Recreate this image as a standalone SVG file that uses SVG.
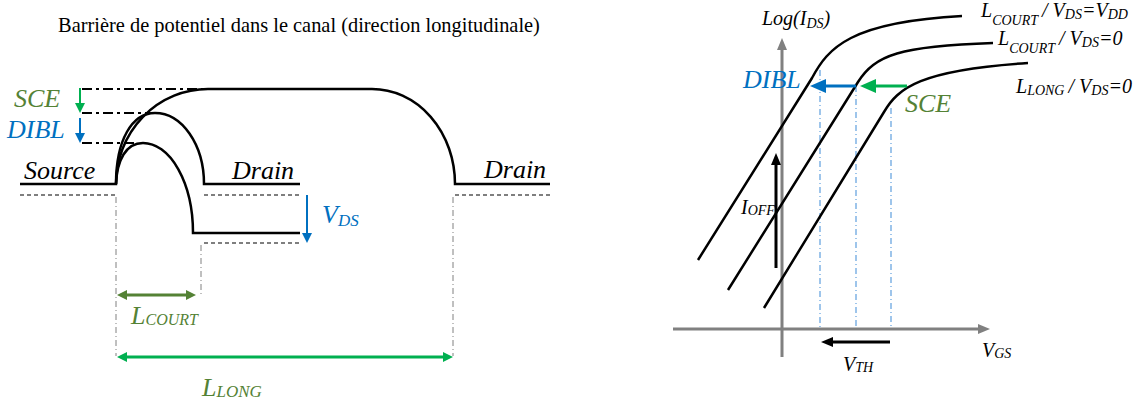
<svg xmlns="http://www.w3.org/2000/svg" width="1141" height="407" viewBox="0 0 1141 407">
<style>
.t{font-family:"Liberation Serif","Times New Roman",serif;font-style:italic}
.title{font-family:"Liberation Serif","Times New Roman",serif;font-size:20.4px;fill:#000}
.curve{fill:none;stroke:#000;stroke-width:2.5}
.dash{fill:none;stroke:#000;stroke-width:1.2;stroke-dasharray:4 3}
.ddot{fill:none;stroke:#000;stroke-width:2;stroke-dasharray:10 4 3 4}
.gdot{fill:none;stroke:#808080;stroke-width:1;stroke-dasharray:6 3 1 3}
.bdot{fill:none;stroke:#7fb2e5;stroke-width:1.5;stroke-dasharray:6 3 1 3}
.olive{fill:#548235}
.blue{fill:#0070C0}
</style>
<defs>
<marker id="ah-green" markerUnits="userSpaceOnUse" markerWidth="10" markerHeight="10" refX="3" refY="5" orient="auto-start-reverse"><path d="M0,0 L10,5 L0,10 z" fill="#00B050"/></marker>
<marker id="ah-olive" markerUnits="userSpaceOnUse" markerWidth="10" markerHeight="10" refX="3" refY="5" orient="auto-start-reverse"><path d="M0,0 L10,5 L0,10 z" fill="#548235"/></marker>
<marker id="ah-blue" markerUnits="userSpaceOnUse" markerWidth="10" markerHeight="10" refX="3" refY="5" orient="auto-start-reverse"><path d="M0,0 L10,5 L0,10 z" fill="#0070C0"/></marker>
<marker id="ah-black" markerUnits="userSpaceOnUse" markerWidth="12" markerHeight="10" refX="3" refY="5" orient="auto"><path d="M0,0 L12,5 L0,10 z" fill="#000"/></marker>
<marker id="ah-gray" markerUnits="userSpaceOnUse" markerWidth="12" markerHeight="10" refX="3" refY="5" orient="auto"><path d="M0,0 L12,5 L0,10 z" fill="#808080"/></marker>
<marker id="ah-blue-big" markerUnits="userSpaceOnUse" markerWidth="16" markerHeight="14" refX="4" refY="7" orient="auto"><path d="M0,0 L16,7 L0,14 z" fill="#0070C0"/></marker>
<marker id="ah-green-big" markerUnits="userSpaceOnUse" markerWidth="16" markerHeight="14" refX="4" refY="7" orient="auto"><path d="M0,0 L16,7 L0,14 z" fill="#00B050"/></marker>
</defs>

<text class="title" x="299" y="32" text-anchor="middle">Barrière de potentiel dans le canal (direction longitudinale)</text>

<!-- Left panel: potential barrier -->
<g id="barrier-long">
<path class="curve" d="M20,184 L116,184 A92,95 0 0 1 208,89 L372,89 A83,95 0 0 1 455,184 L550,184"/>
</g>
<g id="barrier-short-vds0">
<path class="curve" d="M116,184 C116,140 132,113 155,113 A49,71 0 0 1 204,184 L300,184"/>
</g>
<g id="barrier-short-vdd">
<path class="curve" d="M116,184 C117,160 126,143 143,143 A50,90 0 0 1 193,233 L300,233"/>
</g>
<g id="reference-levels">
<path class="dash" d="M20,195 H115 M204,195 H300 M455,195 H550 M204,243 H300"/>
<path class="ddot" d="M82,89 H210 M82,113 H150 M82,143 H136"/>
<path class="gdot" d="M116,197 V356 M201,245 V297 M453,197 V356"/>
</g>
<g id="left-labels">
<text class="t olive" x="14" y="107" font-size="26">SCE</text>
<text class="t blue" x="7" y="138" font-size="26">DIBL</text>
<text class="t" x="24" y="179" font-size="26">Source</text>
<text class="t" x="232" y="179" font-size="26">Drain</text>
<text class="t" x="484" y="178" font-size="26">Drain</text>
<text class="t blue" x="322" y="223" font-size="26">V<tspan font-size="17" dy="3">DS</tspan></text>
<text class="t olive" x="131" y="324" font-size="26">L<tspan font-size="16" dy="1">COURT</tspan></text>
<text class="t olive" x="202" y="396" font-size="26">L<tspan font-size="17" dy="1">LONG</tspan></text>
</g>

<!-- Right panel: Log(IDS) vs VGS -->
<g id="axes">
<line x1="782" y1="357" x2="782" y2="47" stroke="#808080" stroke-width="3" marker-end="url(#ah-gray)"/>
<line x1="673" y1="329" x2="981" y2="329" stroke="#808080" stroke-width="3" marker-end="url(#ah-gray)"/>
<path class="bdot" d="M820,70 V329 M856,86 V329 M891,108 V329"/>
</g>
<g id="curve-court-vdd">
<path class="curve" d="M698,260 L812,78 C828,48 850,22 962,16"/>
</g>
<g id="curve-court-0">
<path class="curve" d="M728,290 L858,82 C875,55 900,46 993,43"/>
</g>
<g id="curve-long-0">
<path class="curve" d="M764,308 L884,112 C898,88 920,70 1028,63"/>
</g>
<g id="right-labels">
<text class="t" x="762" y="25" font-size="20">Log(I<tspan font-size="14" dy="3">DS</tspan><tspan dy="-3">)</tspan></text>
<text class="t blue" x="743" y="88" font-size="26">DIBL</text>
<text class="t olive" x="905" y="112" font-size="26">SCE</text>
<text class="t" x="741" y="214" font-size="20">I<tspan font-size="14" dy="1">OFF</tspan></text>
<text class="t" x="843" y="371" font-size="20">V<tspan font-size="14" dy="1">TH</tspan></text>
<text class="t" x="982" y="357" font-size="20">V<tspan font-size="14" dy="1">GS</tspan></text>
<text class="t" x="981" y="17" font-size="20">L<tspan font-size="14" dy="8">COURT</tspan><tspan dx="4" dy="-8">/ V</tspan><tspan font-size="14" dy="2">DS</tspan><tspan dy="-2">=V</tspan><tspan font-size="14" dy="2">DD</tspan></text>
<text class="t" x="998" y="45" font-size="20">L<tspan font-size="14" dy="8">COURT</tspan><tspan dx="4" dy="-8">/ V</tspan><tspan font-size="14" dy="2">DS</tspan><tspan dy="-2">=0</tspan></text>
<text class="t" x="1016" y="93" font-size="20">L<tspan font-size="14" dy="2">LONG</tspan><tspan dx="4" dy="-2">/ V</tspan><tspan font-size="14" dy="2">DS</tspan><tspan dy="-2">=0</tspan></text>
</g>

<g id="connectors">
<line x1="80" y1="88" x2="80" y2="106" stroke="#00B050" stroke-width="2" marker-end="url(#ah-green)"/>
<line x1="80" y1="118" x2="80" y2="136" stroke="#0070C0" stroke-width="2" marker-end="url(#ah-blue)"/>
<line x1="307" y1="195" x2="307" y2="236" stroke="#0070C0" stroke-width="2" marker-end="url(#ah-blue)"/>
<line x1="124" y1="295" x2="189" y2="295" stroke="#548235" stroke-width="3" marker-start="url(#ah-olive)" marker-end="url(#ah-olive)"/>
<line x1="124" y1="357" x2="446" y2="357" stroke="#00B050" stroke-width="3" marker-start="url(#ah-green)" marker-end="url(#ah-green)"/>
<line x1="856" y1="86" x2="822" y2="86" stroke="#0070C0" stroke-width="3" marker-end="url(#ah-blue-big)"/>
<line x1="907" y1="86" x2="872" y2="86" stroke="#00B050" stroke-width="3" marker-end="url(#ah-green-big)"/>
<line x1="776" y1="268" x2="776" y2="162" stroke="#000" stroke-width="3" marker-end="url(#ah-black)"/>
<line x1="890" y1="342" x2="830" y2="342" stroke="#000" stroke-width="3" marker-end="url(#ah-black)"/>
</g>
</svg>
